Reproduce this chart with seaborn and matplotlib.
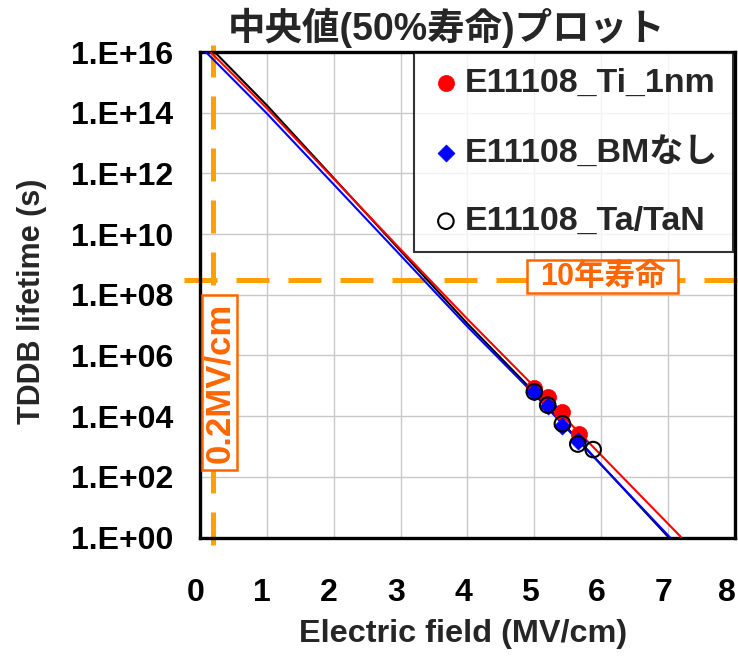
import numpy as np
import pandas as pd
import matplotlib
matplotlib.use("Agg")
import matplotlib.pyplot as plt
from matplotlib.patches import Rectangle
from matplotlib.transforms import ScaledTranslation
from matplotlib.ticker import FixedLocator, FixedFormatter, NullLocator
import seaborn as sns

# ---------------- data ----------------
title = "中央値(50%寿命)プロット"
xlabel = "Electric field (MV/cm)"
ylabel = "TDDB lifetime (s)"
series_names = ["E11108_Ti_1nm", "E11108_BMなし", "E11108_Ta/TaN"]

ti_x = [5.0, 5.21, 5.42, 5.67]
ti_y = [8.5e4, 4.4e4, 1.4e4, 2.6e3]
bm_x = [5.0, 5.21, 5.42, 5.65]
bm_y = [6.3e4, 2.1e4, 4.7e3, 1.5e3]
ta_x = [5.0, 5.2, 5.42, 5.65, 5.88]
ta_y = [6.3e4, 2.3e4, 5.6e3, 1.2e3, 7.9e2]

# fitted (extrapolated) lines, exponents of lifetime
ti_line_x = [0, 1, 3, 4, 5, 7.2]
ti_line_exp = [16.35, 14.15, 9.5, 7.2, 4.97, 0]
bm_line_x = [0, 1, 3, 4, 5, 7.03]
bm_line_exp = [16.2, 13.98, 9.3, 6.95, 4.72, 0]
ta_line_x = [0, 1, 3, 4, 5, 7.01]
ta_line_exp = [16.5, 14.25, 9.45, 7.05, 4.78, 0]

ten_year_s = 3.15e8
field_ref = 0.2
ten_year_label = "10年寿命"
field_label = "0.2MV/cm"

xticks = [0, 1, 2, 3, 4, 5, 6, 7, 8]
yticks = [1e0, 1e2, 1e4, 1e6, 1e8, 1e10, 1e12, 1e14, 1e16]
ytick_labels = ["1.E+00", "1.E+02", "1.E+04", "1.E+06", "1.E+08",
                "1.E+10", "1.E+12", "1.E+14", "1.E+16"]

# ---------------- style ----------------
sns.set_theme(style="white")
plt.rcParams["font.family"] = ["Liberation Sans", "Noto Sans CJK JP", "DejaVu Sans"]
plt.rcParams["font.weight"] = "bold"

FS = 23
ORANGE_LINE = "#FFA000"
ORANGE_TXT = "#FF6600"

W, H = 738, 659
fig = plt.figure(figsize=(W / 100, H / 100), dpi=100)
ax_l, ax_r, ax_t, ax_b = 199.8, 735.0, 52.0, 537.5
ax = fig.add_axes([ax_l / W, (H - ax_b) / H, (ax_r - ax_l) / W, (ax_b - ax_t) / H])

def fx(px):
    return (px - ax_l) / (ax_r - ax_l)

def fy(py):
    return (ax_b - py) / (ax_b - ax_t)

# lines
for lx, le, col in [(ta_line_x, ta_line_exp, "black"),
                    (ti_line_x, ti_line_exp, "red"),
                    (bm_line_x, bm_line_exp, "blue")]:
    sns.lineplot(x=lx, y=10 ** np.array(le, dtype=float), ax=ax, color=col,
                 lw=1.5, legend=False, zorder=3)

# points
sns.scatterplot(x=ti_x, y=ti_y, ax=ax, marker="o", s=135, color="red",
                edgecolor="red", linewidth=0.5, label=series_names[0], zorder=4)
sns.scatterplot(x=bm_x, y=bm_y, ax=ax, marker="D", s=75, color="blue",
                edgecolor="blue", linewidth=0.5, label=series_names[1], zorder=5)
sns.scatterplot(x=ta_x, y=ta_y, ax=ax, marker="o", s=125, facecolor="none",
                edgecolor="black", linewidth=1.5, label=series_names[2], zorder=6)

ax.set_yscale("log")
ax.set_xlim(0, 8)
ax.set_ylim(1, 1e16)

ax.xaxis.set_major_locator(FixedLocator(xticks))
ax.yaxis.set_major_locator(FixedLocator(yticks))
ax.yaxis.set_major_formatter(FixedFormatter(ytick_labels))
ax.yaxis.set_minor_locator(NullLocator())
ax.tick_params(axis="both", which="major", direction="in", length=8.5,
               width=2.2, color="black", labelsize=FS, labelcolor="black")
ax.tick_params(axis="x", pad=29)
ax.tick_params(axis="y", pad=19)
for lab in ax.get_yticklabels():
    lab.set_fontweight("bold")
xlabs = ax.get_xticklabels()
for i, lab in enumerate(xlabs):
    lab.set_fontweight("bold")
    shift = -8 if i == len(xlabs) - 1 else -4.5
    lab.set_transform(lab.get_transform() + ScaledTranslation(shift / 100, 0, fig.dpi_scale_trans))

ax.grid(True, color="#c8c8c8", lw=1.0, zorder=0)
ax.set_axisbelow(True)
for sp in ax.spines.values():
    sp.set_color("black")
    sp.set_linewidth(2.4)

ax.set_xlabel(xlabel, fontsize=23.4, fontweight="bold", labelpad=8, x=fx(463))
ax.set_ylabel(ylabel, fontsize=22, fontweight="bold", labelpad=17, y=fy(301))
fig.text(447 / W, 1 - 28 / H, title, fontsize=27, fontweight="bold",
         ha="center", va="center")

# reference dashed lines
lw_ref = 3.6
ax.plot([fx(184), fx(738)], [ten_year_s, ten_year_s], transform=ax.get_yaxis_transform(),
        color=ORANGE_LINE, lw=lw_ref, dashes=(6.6, 3.8), clip_on=False, zorder=2)
ax.plot([field_ref, field_ref], [-0.015, 1.015], transform=ax.get_xaxis_transform(),
        color=ORANGE_LINE, lw=lw_ref, dashes=(6.6, 3.8), clip_on=False, zorder=2)

# labelled boxes (axes-fraction geometry)
ax.add_patch(Rectangle((fx(527), fy(293)), fx(678) - fx(527), fy(260) - fy(293),
                       transform=ax.transAxes, fc="white", ec=ORANGE_TXT, lw=1.8,
                       zorder=7, clip_on=False))
ax.text(fx(602.5), fy(276.5), ten_year_label, transform=ax.transAxes,
        color=ORANGE_TXT, fontsize=22, fontweight="bold", ha="center",
        va="center", zorder=8)
ax.add_patch(Rectangle((fx(201.7), fy(470)), fx(237.3) - fx(201.7), fy(295) - fy(470),
                       transform=ax.transAxes, fc="white", ec=ORANGE_TXT, lw=1.8,
                       zorder=7, clip_on=False))
ax.text(fx(219.5), fy(382.5), field_label, transform=ax.transAxes,
        color=ORANGE_TXT, fontsize=25, fontweight="bold", ha="center",
        va="center", rotation=90, zorder=8)

leg = ax.legend(loc="upper right", bbox_to_anchor=(fx(733), fy(53)), borderaxespad=0,
                fontsize=24.5, frameon=True, fancybox=False, borderpad=0.45,
                handlelength=0.95, handletextpad=0.07, labelspacing=1.1)
leg.get_frame().set_edgecolor("black")
leg.get_frame().set_linewidth(1.5)
leg.set_zorder(9)
for t in leg.get_texts():
    t.set_fontweight("bold")

fig.savefig("out.png", dpi=100)
